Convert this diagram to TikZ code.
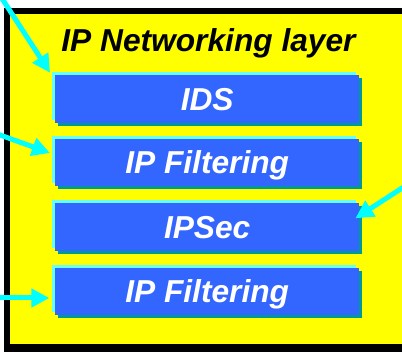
\documentclass[tikz,border=0pt]{standalone}
\usepackage{fontspec}
\setmainfont{Liberation Sans}
\usetikzlibrary{arrows.meta,shadows}
\definecolor{boxblue}{HTML}{3366FF}
\definecolor{hlcyan}{HTML}{66FFFF}
\definecolor{arrcyan}{HTML}{00FFFF}
\definecolor{shteal}{HTML}{009999}
\definecolor{bgyellow}{HTML}{FFFF00}
\begin{document}
\begin{tikzpicture}[x=1pt,y=-1pt,
  layerbox/.style={rectangle, fill=boxblue, minimum width=304pt, minimum height=47.5pt,
    inner sep=0pt, anchor=north west, text=white, text height=22.7pt, text depth=0pt,
    font=\fontsize{31.7}{36}\selectfont\bfseries\itshape,
    general shadow={shadow xshift=-3pt, shadow yshift=3pt, fill=hlcyan},
    general shadow={shadow xshift=3pt, shadow yshift=-3pt, fill=shteal}},
  feed/.style={draw=arrcyan, line width=5pt, -{Triangle[length=18pt,width=18pt]}}]
\useasboundingbox (0,0) rectangle (402,352);
\clip (0,0) rectangle (402,352);
% outer frame
\fill[black] (4,8) rectangle (430,352);
\fill[bgyellow] (10,13.8) rectangle (430,344);
% title
\node[anchor=base, font=\fontsize{31.7}{36}\selectfont\bfseries\itshape, text=black, inner sep=0pt]
  (title) at (208.5,51.7) {IP Networking layer};
% layer boxes
\node[layerbox] (b1) at (55,75) {IDS};
\node[layerbox] (b2) at (55,138.6) {IP Filtering};
\node[layerbox] (b3) at (55,203.2) {IPSec};
\node[layerbox] (b4) at (55,267.6) {IP Filtering};
% arrows
\coordinate (s1) at (-2.2,-8);
\coordinate (s2) at (-8,132.1);
\coordinate (s3) at (-8,298);
\coordinate (s4) at (412,181.6);
\draw[feed] (s1) -- ([shift={(-5,-2.3)}]b1.north west);
\draw[feed] (s2) -- ([shift={(-5,14.4)}]b2.north west);
\draw[feed] (s3) -- ([shift={(-5.7,30.4)}]b4.north west);
\draw[feed] (s4) -- ([shift={(-4,15.1)}]b3.north east);
\end{tikzpicture}
\end{document}
